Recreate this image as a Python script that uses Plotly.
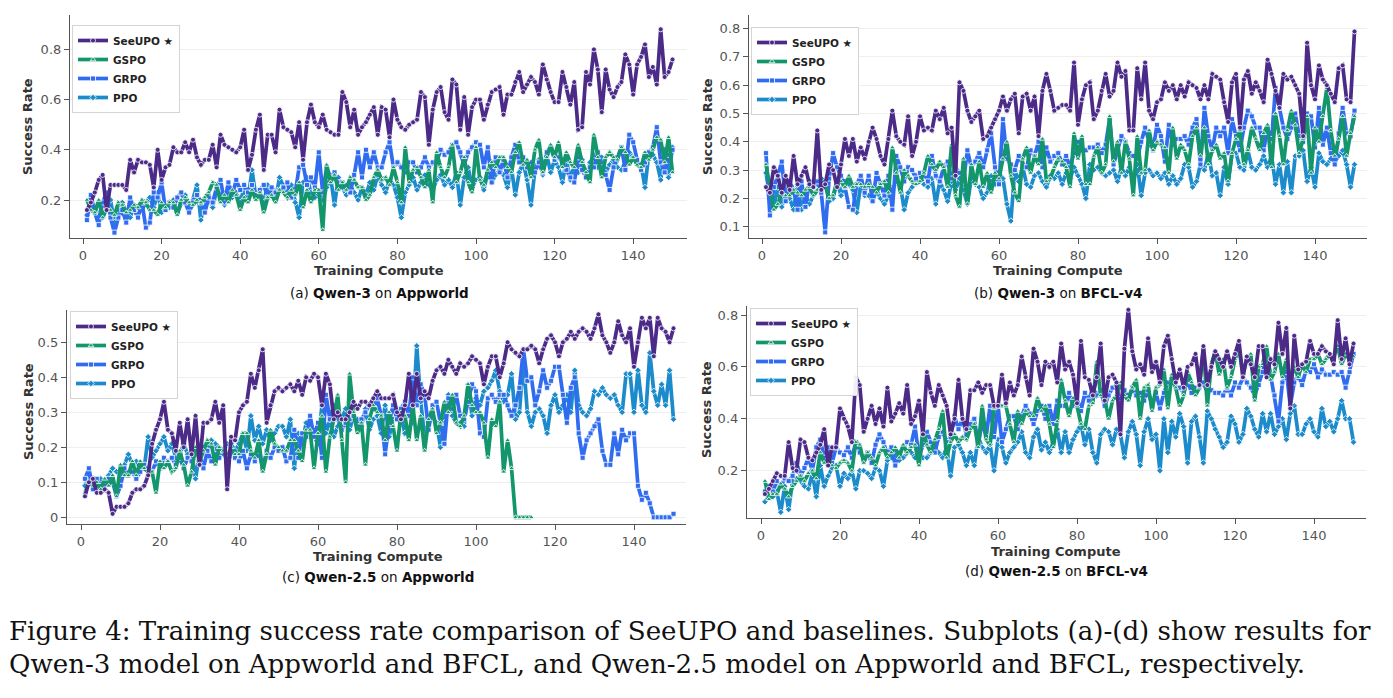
import plotly.graph_objects as go

W, H = 1393, 698
steps = list(range(1, 151))
gspo_c_steps = list(range(1, 115))

series_names = ["SeeUPO ★", "GSPO", "GRPO", "PPO"]
x_ticks = [0, 20, 40, 60, 80, 100, 120, 140]

# ---------------- (a) Qwen-3 on Appworld ----------------
a_seeupo = [0.16,0.19,0.23,0.28,0.30,0.16,0.26,0.26,0.26,0.26,
            0.24,0.36,0.31,0.36,0.35,0.35,0.34,0.25,0.40,0.28,
            0.33,0.34,0.41,0.39,0.39,0.43,0.39,0.44,0.37,0.34,
            0.36,0.36,0.42,0.33,0.46,0.42,0.41,0.40,0.39,0.41,
            0.48,0.32,0.38,0.48,0.54,0.32,0.46,0.46,0.39,0.56,
            0.49,0.48,0.47,0.41,0.51,0.36,0.51,0.58,0.51,0.49,
            0.54,0.48,0.47,0.46,0.46,0.63,0.59,0.49,0.56,0.46,
            0.49,0.51,0.54,0.57,0.46,0.57,0.56,0.45,0.60,0.52,
            0.49,0.48,0.50,0.51,0.52,0.63,0.61,0.42,0.56,0.63,
            0.65,0.55,0.52,0.68,0.66,0.48,0.61,0.46,0.57,0.60,
            0.60,0.52,0.58,0.63,0.64,0.65,0.54,0.62,0.62,0.67,
            0.71,0.63,0.66,0.69,0.67,0.62,0.74,0.68,0.63,0.59,
            0.59,0.71,0.65,0.58,0.67,0.48,0.49,0.71,0.66,0.80,
            0.72,0.55,0.72,0.64,0.61,0.65,0.67,0.78,0.74,0.62,
            0.74,0.77,0.82,0.69,0.73,0.66,0.88,0.69,0.71,0.76]
a_gspo = [0.20,0.16,0.15,0.20,0.13,0.17,0.16,0.14,0.19,0.18,
          0.15,0.16,0.18,0.17,0.20,0.19,0.16,0.16,0.14,0.19,
          0.17,0.19,0.19,0.14,0.20,0.21,0.19,0.18,0.20,0.19,
          0.21,0.23,0.27,0.26,0.19,0.22,0.19,0.24,0.22,0.16,
          0.21,0.19,0.24,0.20,0.23,0.15,0.21,0.22,0.19,0.24,
          0.23,0.21,0.24,0.22,0.27,0.17,0.24,0.19,0.24,0.24,
          0.08,0.34,0.27,0.30,0.24,0.27,0.24,0.29,0.28,0.25,
          0.25,0.20,0.22,0.29,0.32,0.28,0.29,0.26,0.33,0.27,
          0.19,0.41,0.27,0.32,0.33,0.29,0.25,0.32,0.19,0.39,
          0.33,0.29,0.33,0.42,0.27,0.31,0.37,0.27,0.23,0.41,
          0.28,0.26,0.32,0.35,0.33,0.37,0.37,0.33,0.31,0.39,
          0.43,0.34,0.36,0.29,0.40,0.44,0.31,0.37,0.42,0.37,
          0.43,0.33,0.39,0.35,0.33,0.42,0.35,0.31,0.27,0.46,
          0.37,0.29,0.37,0.39,0.37,0.36,0.41,0.39,0.34,0.37,
          0.34,0.33,0.39,0.36,0.40,0.45,0.44,0.35,0.45,0.31]
a_grpo = [0.12,0.22,0.15,0.10,0.19,0.23,0.13,0.07,0.13,0.16,
          0.11,0.21,0.16,0.13,0.19,0.09,0.11,0.23,0.21,0.27,
          0.16,0.19,0.17,0.21,0.23,0.19,0.15,0.19,0.22,0.19,
          0.15,0.21,0.19,0.25,0.28,0.19,0.27,0.22,0.28,0.24,
          0.26,0.23,0.26,0.22,0.24,0.26,0.21,0.25,0.23,0.24,
          0.25,0.27,0.21,0.23,0.33,0.34,0.26,0.29,0.25,0.39,
          0.23,0.33,0.29,0.31,0.27,0.27,0.26,0.23,0.30,0.39,
          0.29,0.40,0.33,0.39,0.33,0.33,0.39,0.43,0.33,0.35,
          0.33,0.31,0.35,0.35,0.31,0.33,0.37,0.33,0.35,0.35,
          0.40,0.38,0.39,0.42,0.43,0.39,0.34,0.39,0.41,0.43,
          0.42,0.33,0.41,0.27,0.37,0.31,0.36,0.29,0.37,0.42,
          0.35,0.37,0.33,0.35,0.31,0.35,0.31,0.39,0.41,0.36,
          0.37,0.35,0.32,0.29,0.27,0.37,0.32,0.29,0.33,0.33,
          0.39,0.33,0.30,0.24,0.33,0.37,0.41,0.32,0.46,0.43,
          0.36,0.32,0.35,0.39,0.41,0.49,0.35,0.31,0.38,0.40]
a_ppo = [0.14,0.18,0.17,0.14,0.13,0.17,0.20,0.11,0.16,0.19,
         0.15,0.13,0.18,0.17,0.16,0.19,0.21,0.17,0.23,0.15,
         0.18,0.17,0.20,0.15,0.19,0.22,0.15,0.20,0.26,0.12,
         0.20,0.22,0.17,0.24,0.22,0.18,0.25,0.21,0.23,0.19,
         0.25,0.20,0.32,0.21,0.23,0.19,0.26,0.22,0.20,0.29,
         0.25,0.22,0.26,0.19,0.13,0.27,0.29,0.23,0.21,0.23,
         0.20,0.25,0.29,0.18,0.29,0.25,0.22,0.26,0.23,0.20,
         0.25,0.22,0.27,0.24,0.30,0.26,0.23,0.28,0.26,0.21,
         0.13,0.23,0.26,0.29,0.24,0.27,0.30,0.26,0.24,0.28,
         0.30,0.26,0.28,0.25,0.31,0.18,0.29,0.33,0.25,0.28,
         0.29,0.24,0.31,0.27,0.30,0.32,0.30,0.25,0.33,0.22,
         0.31,0.35,0.28,0.18,0.32,0.36,0.30,0.38,0.31,0.36,
         0.33,0.27,0.36,0.28,0.34,0.31,0.36,0.29,0.35,0.38,
         0.33,0.37,0.31,0.34,0.36,0.33,0.32,0.35,0.39,0.37,
         0.35,0.34,0.25,0.39,0.38,0.35,0.28,0.40,0.29,0.41]

# ---------------- (b) Qwen-3 on BFCL-v4 ----------------
b_seeupo = [0.24,0.22,0.31,0.28,0.22,0.28,0.23,0.35,0.25,0.28,
            0.31,0.25,0.24,0.44,0.23,0.25,0.32,0.30,0.24,0.32,
            0.41,0.35,0.41,0.33,0.38,0.34,0.40,0.45,0.41,0.35,
            0.32,0.41,0.51,0.42,0.40,0.39,0.49,0.35,0.40,0.49,
            0.44,0.45,0.44,0.51,0.48,0.52,0.43,0.45,0.28,0.61,
            0.58,0.51,0.47,0.49,0.51,0.41,0.42,0.45,0.48,0.51,
            0.56,0.51,0.55,0.57,0.43,0.56,0.57,0.51,0.56,0.42,
            0.58,0.64,0.58,0.51,0.52,0.53,0.53,0.51,0.68,0.46,
            0.55,0.60,0.61,0.48,0.51,0.58,0.64,0.56,0.58,0.68,
            0.63,0.65,0.44,0.44,0.66,0.55,0.68,0.51,0.48,0.54,
            0.55,0.61,0.58,0.60,0.55,0.60,0.56,0.61,0.60,0.59,
            0.55,0.60,0.55,0.64,0.63,0.62,0.54,0.47,0.61,0.64,
            0.45,0.62,0.65,0.57,0.61,0.58,0.54,0.69,0.64,0.58,
            0.52,0.64,0.62,0.63,0.60,0.57,0.42,0.75,0.60,0.55,
            0.67,0.62,0.60,0.57,0.54,0.66,0.67,0.55,0.54,0.79]
b_gspo = [0.32,0.24,0.16,0.18,0.22,0.21,0.21,0.23,0.22,0.21,
          0.23,0.24,0.21,0.23,0.23,0.25,0.20,0.21,0.26,0.26,
          0.24,0.28,0.24,0.25,0.25,0.24,0.25,0.24,0.22,0.25,
          0.26,0.22,0.38,0.29,0.22,0.30,0.28,0.26,0.25,0.26,
          0.29,0.35,0.32,0.30,0.33,0.31,0.24,0.39,0.21,0.17,
          0.34,0.18,0.32,0.25,0.33,0.24,0.29,0.22,0.29,0.27,
          0.34,0.40,0.28,0.22,0.19,0.34,0.38,0.29,0.35,0.32,
          0.41,0.26,0.27,0.31,0.34,0.33,0.31,0.24,0.43,0.34,
          0.42,0.25,0.25,0.35,0.38,0.29,0.32,0.49,0.33,0.40,
          0.29,0.40,0.34,0.21,0.42,0.29,0.30,0.44,0.37,0.40,
          0.39,0.38,0.29,0.45,0.34,0.39,0.37,0.32,0.42,0.45,
          0.35,0.45,0.32,0.37,0.39,0.34,0.36,0.26,0.36,0.41,
          0.44,0.32,0.37,0.45,0.41,0.37,0.43,0.46,0.31,0.50,
          0.42,0.32,0.44,0.51,0.46,0.36,0.41,0.49,0.29,0.45,
          0.40,0.49,0.59,0.44,0.35,0.41,0.49,0.35,0.43,0.49]
b_grpo = [0.36,0.14,0.24,0.28,0.33,0.19,0.26,0.23,0.16,0.26,
          0.17,0.26,0.24,0.26,0.22,0.08,0.27,0.36,0.31,0.28,
          0.24,0.17,0.16,0.25,0.28,0.22,0.28,0.19,0.29,0.25,
          0.21,0.28,0.16,0.35,0.31,0.26,0.31,0.30,0.27,0.29,
          0.29,0.26,0.35,0.28,0.26,0.31,0.33,0.27,0.31,0.29,
          0.26,0.37,0.31,0.33,0.36,0.31,0.37,0.43,0.31,0.25,
          0.48,0.34,0.32,0.30,0.35,0.32,0.31,0.37,0.35,0.40,
          0.31,0.38,0.33,0.35,0.36,0.32,0.35,0.31,0.36,0.40,
          0.37,0.37,0.38,0.38,0.39,0.36,0.39,0.48,0.32,0.37,
          0.42,0.40,0.36,0.35,0.34,0.40,0.45,0.40,0.37,0.46,
          0.42,0.33,0.46,0.39,0.41,0.41,0.42,0.39,0.45,0.48,
          0.32,0.52,0.42,0.37,0.45,0.42,0.45,0.36,0.48,0.42,
          0.37,0.45,0.51,0.49,0.45,0.45,0.37,0.45,0.41,0.59,
          0.52,0.45,0.41,0.45,0.50,0.42,0.40,0.50,0.49,0.38,
          0.52,0.39,0.45,0.36,0.32,0.43,0.52,0.43,0.42,0.51]
b_ppo = [0.29,0.21,0.17,0.24,0.17,0.22,0.20,0.16,0.25,0.16,
         0.21,0.18,0.21,0.23,0.27,0.25,0.19,0.20,0.26,0.21,
         0.26,0.25,0.23,0.15,0.25,0.21,0.21,0.19,0.23,0.20,
         0.18,0.21,0.23,0.26,0.25,0.16,0.22,0.24,0.28,0.28,
         0.25,0.24,0.27,0.18,0.26,0.23,0.19,0.26,0.23,0.27,
         0.23,0.18,0.27,0.25,0.24,0.20,0.22,0.28,0.25,0.29,
         0.27,0.18,0.12,0.30,0.26,0.31,0.25,0.24,0.28,0.29,
         0.26,0.24,0.28,0.27,0.29,0.25,0.29,0.27,0.31,0.28,
         0.25,0.20,0.32,0.30,0.31,0.29,0.28,0.29,0.30,0.26,
         0.31,0.28,0.31,0.26,0.32,0.21,0.29,0.30,0.28,0.29,
         0.27,0.29,0.25,0.28,0.25,0.27,0.32,0.31,0.24,0.26,
         0.32,0.30,0.36,0.28,0.29,0.21,0.31,0.25,0.36,0.36,
         0.31,0.30,0.37,0.31,0.30,0.32,0.35,0.31,0.35,0.25,
         0.32,0.22,0.33,0.22,0.35,0.35,0.37,0.26,0.31,0.24,
         0.36,0.33,0.32,0.34,0.33,0.35,0.37,0.32,0.24,0.32]

# ---------------- (c) Qwen-2.5 on Appworld ----------------
c_seeupo = [0.06,0.10,0.11,0.07,0.07,0.08,0.07,0.01,0.03,0.03,
            0.03,0.04,0.07,0.08,0.08,0.09,0.12,0.21,0.25,0.28,
            0.33,0.25,0.24,0.19,0.27,0.20,0.28,0.18,0.29,0.15,
            0.27,0.27,0.28,0.33,0.27,0.32,0.08,0.23,0.22,0.30,
            0.32,0.33,0.41,0.37,0.42,0.48,0.27,0.32,0.36,0.37,
            0.36,0.37,0.38,0.36,0.39,0.35,0.40,0.39,0.41,0.40,
            0.32,0.41,0.38,0.28,0.30,0.28,0.28,0.30,0.33,0.31,
            0.33,0.33,0.32,0.34,0.36,0.34,0.34,0.34,0.35,0.30,
            0.28,0.32,0.41,0.32,0.41,0.34,0.36,0.34,0.39,0.42,
            0.43,0.41,0.45,0.43,0.41,0.44,0.43,0.44,0.46,0.45,
            0.44,0.38,0.43,0.46,0.46,0.40,0.44,0.50,0.48,0.47,
            0.46,0.48,0.48,0.49,0.48,0.44,0.48,0.51,0.52,0.50,
            0.46,0.50,0.51,0.53,0.51,0.53,0.54,0.53,0.51,0.54,
            0.58,0.52,0.50,0.47,0.50,0.56,0.52,0.50,0.54,0.43,
            0.50,0.57,0.54,0.57,0.46,0.57,0.54,0.53,0.50,0.54]
c_gspo = [0.07,0.10,0.09,0.10,0.08,0.11,0.09,0.12,0.06,0.15,
          0.12,0.12,0.16,0.12,0.16,0.14,0.13,0.13,0.07,0.16,
          0.14,0.16,0.13,0.14,0.19,0.15,0.09,0.13,0.20,0.16,
          0.19,0.22,0.21,0.15,0.20,0.19,0.17,0.20,0.18,0.18,
          0.24,0.24,0.19,0.17,0.22,0.13,0.18,0.25,0.21,0.20,
          0.19,0.19,0.22,0.22,0.19,0.16,0.25,0.25,0.14,0.24,
          0.29,0.13,0.23,0.28,0.35,0.22,0.10,0.41,0.30,0.24,
          0.27,0.15,0.28,0.32,0.30,0.29,0.22,0.30,0.26,0.19,
          0.30,0.29,0.22,0.32,0.22,0.29,0.19,0.28,0.31,0.24,
          0.27,0.33,0.30,0.35,0.27,0.26,0.29,0.38,0.32,0.30,
          0.30,0.27,0.17,0.28,0.26,0.33,0.13,0.22,0.14,0.00,
          0.00,0.00,0.00,0.00]
c_grpo = [0.11,0.14,0.08,0.11,0.09,0.09,0.11,0.10,0.06,0.09,
          0.14,0.12,0.13,0.11,0.13,0.15,0.14,0.13,0.16,0.14,
          0.17,0.16,0.17,0.15,0.17,0.14,0.17,0.16,0.19,0.18,
          0.14,0.19,0.16,0.18,0.17,0.19,0.16,0.18,0.17,0.16,
          0.19,0.14,0.18,0.16,0.19,0.14,0.19,0.17,0.20,0.19,
          0.20,0.16,0.17,0.25,0.17,0.24,0.23,0.29,0.23,0.27,
          0.17,0.35,0.28,0.32,0.28,0.25,0.27,0.28,0.29,0.26,
          0.28,0.30,0.32,0.31,0.34,0.29,0.18,0.27,0.32,0.28,
          0.31,0.33,0.29,0.40,0.32,0.38,0.35,0.25,0.32,0.33,
          0.27,0.21,0.34,0.31,0.35,0.29,0.28,0.33,0.38,0.36,
          0.24,0.23,0.34,0.35,0.33,0.35,0.35,0.32,0.29,0.32,
          0.37,0.48,0.39,0.40,0.32,0.36,0.42,0.37,0.39,0.43,
          0.43,0.35,0.27,0.37,0.40,0.24,0.17,0.22,0.24,0.26,
          0.28,0.19,0.15,0.15,0.24,0.18,0.25,0.22,0.24,0.24,
          0.09,0.05,0.07,0.04,0.00,0.00,0.00,0.00,0.00,0.01]
c_ppo = [0.09,0.12,0.11,0.09,0.11,0.08,0.12,0.14,0.13,0.13,
         0.15,0.18,0.15,0.16,0.14,0.14,0.23,0.17,0.19,0.21,
         0.23,0.19,0.21,0.17,0.18,0.21,0.18,0.19,0.11,0.18,
         0.20,0.19,0.22,0.21,0.17,0.19,0.21,0.21,0.19,0.21,
         0.24,0.19,0.29,0.22,0.26,0.21,0.25,0.22,0.24,0.26,
         0.26,0.23,0.28,0.14,0.24,0.21,0.27,0.24,0.23,0.21,
         0.32,0.24,0.28,0.23,0.26,0.28,0.31,0.25,0.29,0.28,
         0.26,0.31,0.25,0.28,0.29,0.24,0.32,0.23,0.28,0.28,
         0.29,0.24,0.25,0.28,0.49,0.33,0.23,0.27,0.29,0.27,
         0.20,0.27,0.35,0.29,0.27,0.27,0.26,0.38,0.29,0.34,
         0.32,0.36,0.37,0.39,0.42,0.36,0.33,0.35,0.41,0.28,
         0.30,0.45,0.30,0.26,0.30,0.31,0.29,0.24,0.32,0.35,
         0.30,0.32,0.35,0.30,0.42,0.32,0.30,0.29,0.31,0.36,
         0.35,0.37,0.35,0.34,0.35,0.32,0.30,0.41,0.41,0.30,
         0.42,0.32,0.30,0.47,0.36,0.32,0.38,0.32,0.42,0.28]

# ---------------- (d) Qwen-2.5 on BFCL-v4 ----------------
d_seeupo = [0.11,0.13,0.16,0.19,0.18,0.18,0.31,0.21,0.20,0.32,
            0.31,0.25,0.24,0.27,0.30,0.36,0.22,0.29,0.29,0.44,
            0.40,0.37,0.31,0.56,0.53,0.35,0.40,0.45,0.38,0.44,
            0.37,0.52,0.39,0.42,0.46,0.42,0.53,0.38,0.41,0.47,
            0.34,0.58,0.50,0.45,0.53,0.49,0.45,0.34,0.40,0.55,
            0.40,0.36,0.51,0.51,0.54,0.50,0.53,0.53,0.45,0.45,
            0.57,0.46,0.54,0.49,0.53,0.64,0.56,0.49,0.67,0.62,
            0.53,0.62,0.60,0.62,0.54,0.69,0.59,0.62,0.57,0.46,
            0.70,0.56,0.55,0.49,0.56,0.69,0.47,0.56,0.57,0.54,
            0.34,0.67,0.82,0.66,0.59,0.61,0.57,0.71,0.58,0.62,
            0.54,0.68,0.72,0.63,0.54,0.59,0.52,0.60,0.61,0.65,
            0.53,0.68,0.53,0.60,0.66,0.63,0.60,0.66,0.60,0.65,
            0.70,0.56,0.64,0.61,0.56,0.68,0.68,0.56,0.63,0.61,
            0.77,0.65,0.75,0.44,0.72,0.59,0.61,0.62,0.70,0.65,
            0.65,0.68,0.66,0.65,0.61,0.78,0.63,0.71,0.61,0.69]
d_gspo = [0.16,0.09,0.11,0.11,0.15,0.13,0.10,0.14,0.16,0.18,
          0.16,0.19,0.20,0.17,0.27,0.23,0.25,0.22,0.21,0.23,
          0.24,0.23,0.20,0.31,0.30,0.23,0.27,0.25,0.22,0.27,
          0.29,0.25,0.27,0.29,0.25,0.30,0.27,0.29,0.30,0.22,
          0.36,0.30,0.27,0.32,0.36,0.43,0.25,0.31,0.34,0.31,
          0.33,0.32,0.36,0.38,0.29,0.45,0.32,0.30,0.44,0.45,
          0.45,0.45,0.38,0.31,0.43,0.38,0.43,0.41,0.41,0.48,
          0.43,0.45,0.38,0.29,0.39,0.55,0.47,0.41,0.48,0.45,
          0.38,0.36,0.45,0.46,0.62,0.49,0.48,0.40,0.47,0.49,
          0.54,0.49,0.47,0.52,0.55,0.40,0.52,0.53,0.43,0.52,
          0.53,0.59,0.44,0.57,0.52,0.45,0.49,0.58,0.54,0.49,
          0.52,0.67,0.45,0.61,0.66,0.57,0.63,0.52,0.56,0.63,
          0.67,0.57,0.63,0.65,0.47,0.60,0.61,0.68,0.55,0.58,
          0.65,0.56,0.63,0.55,0.60,0.56,0.61,0.58,0.63,0.63,
          0.65,0.61,0.63,0.65,0.64,0.68,0.61,0.65,0.63,0.64]
d_grpo = [0.12,0.14,0.12,0.16,0.14,0.17,0.16,0.18,0.23,0.18,
          0.21,0.25,0.20,0.29,0.32,0.25,0.29,0.23,0.29,0.27,
          0.26,0.29,0.25,0.31,0.27,0.25,0.27,0.23,0.30,0.34,
          0.31,0.26,0.29,0.22,0.27,0.29,0.31,0.30,0.37,0.25,
          0.30,0.35,0.31,0.27,0.33,0.35,0.31,0.33,0.41,0.36,
          0.40,0.34,0.38,0.40,0.30,0.39,0.33,0.45,0.33,0.45,
          0.31,0.36,0.41,0.41,0.36,0.41,0.45,0.42,0.38,0.43,
          0.45,0.40,0.45,0.38,0.47,0.45,0.45,0.50,0.45,0.48,
          0.43,0.50,0.47,0.52,0.49,0.51,0.45,0.49,0.52,0.53,
          0.46,0.51,0.48,0.52,0.49,0.50,0.47,0.51,0.45,0.50,
          0.44,0.50,0.54,0.55,0.52,0.52,0.50,0.55,0.50,0.52,
          0.52,0.54,0.50,0.51,0.50,0.50,0.49,0.52,0.49,0.54,
          0.52,0.56,0.54,0.52,0.49,0.53,0.58,0.66,0.57,0.49,
          0.39,0.54,0.58,0.45,0.54,0.57,0.53,0.59,0.58,0.61,
          0.56,0.59,0.57,0.57,0.58,0.57,0.58,0.52,0.58,0.65]
d_ppo = [0.08,0.10,0.10,0.12,0.04,0.14,0.05,0.16,0.17,0.16,
         0.14,0.13,0.19,0.10,0.22,0.14,0.18,0.21,0.22,0.14,
         0.19,0.17,0.20,0.13,0.20,0.20,0.19,0.17,0.21,0.20,
         0.14,0.24,0.25,0.26,0.24,0.25,0.27,0.27,0.25,0.27,
         0.25,0.25,0.27,0.29,0.27,0.25,0.29,0.18,0.29,0.30,
         0.27,0.22,0.27,0.22,0.33,0.29,0.27,0.30,0.20,0.32,
         0.29,0.23,0.27,0.29,0.31,0.35,0.27,0.25,0.33,0.36,
         0.28,0.31,0.27,0.31,0.36,0.27,0.35,0.27,0.32,0.35,
         0.38,0.30,0.36,0.27,0.23,0.34,0.36,0.35,0.30,0.36,
         0.34,0.25,0.35,0.39,0.34,0.22,0.35,0.40,0.32,0.34,
         0.20,0.40,0.27,0.39,0.33,0.42,0.37,0.23,0.39,0.41,
         0.33,0.23,0.43,0.40,0.36,0.33,0.29,0.31,0.41,0.38,
         0.31,0.34,0.44,0.41,0.36,0.33,0.42,0.35,0.42,0.34,
         0.37,0.40,0.32,0.42,0.45,0.34,0.34,0.38,0.40,0.35,
         0.33,0.44,0.37,0.39,0.35,0.40,0.47,0.40,0.40,0.31]

a_yticks = [0.2, 0.4, 0.6, 0.8]
b_yticks = [0.1, 0.2, 0.3, 0.4, 0.5, 0.6, 0.7, 0.8]
c_yticks = [0, 0.1, 0.2, 0.3, 0.4, 0.5]
d_yticks = [0.2, 0.4, 0.6, 0.8]

# ---------------- styling ----------------
COLORS = ["#4b2a88", "#13966c", "#2f6cf0", "#1c8bcb"]
SYMBOLS = ["circle", "triangle-up", "square", "diamond"]
FONT = "DejaVu Sans"

# panel geometry in pixels
panels = [
    dict(sub="(a) <b>Qwen-3</b> on <b>Appworld</b>", data=[(steps, a_seeupo), (steps, a_gspo), (steps, a_grpo), (steps, a_ppo)],
         box=(70, 687, 15, 238), x0=83, xs=3.93, yv=0.2, ypx=200, ys=251, yticks=a_yticks,
         leg=(72, 25), ytitle=(28, 127), xtitle=(379, 270), subpos=(379, 293)),
    dict(sub="(b) <b>Qwen-3</b> on <b>BFCL-v4</b>", data=[(steps, b_seeupo), (steps, b_gspo), (steps, b_grpo), (steps, b_ppo)],
         box=(749, 1367, 15, 238), x0=762, xs=3.95, yv=0.1, ypx=226.7, ys=283, yticks=b_yticks,
         leg=(751, 27), ytitle=(708, 127), xtitle=(1058, 270), subpos=(1058, 293)),
    dict(sub="(c) <b>Qwen-2.5</b> on <b>Appworld</b>", data=[(steps, c_seeupo), (gspo_c_steps, c_gspo), (steps, c_grpo), (steps, c_ppo)],
         box=(67, 686, 310, 524), x0=81, xs=3.95, yv=0.0, ypx=517.3, ys=350, yticks=c_yticks,
         leg=(70, 311), ytitle=(28, 412), xtitle=(378, 556), subpos=(378, 577)),
    dict(sub="(d) <b>Qwen-2.5</b> on <b>BFCL-v4</b>", data=[(steps, d_seeupo), (steps, d_gspo), (steps, d_grpo), (steps, d_ppo)],
         box=(747, 1366, 306, 518), x0=761, xs=3.95, yv=0.2, ypx=470.7, ys=259.5, yticks=d_yticks,
         leg=(750, 308), ytitle=(706, 410), xtitle=(1056, 551), subpos=(1056, 571)),
]

fig = go.Figure()
layout = dict(width=W, height=H, margin=dict(l=0, r=0, t=0, b=0),
              paper_bgcolor="white", plot_bgcolor="white", showlegend=True,
              font=dict(family=FONT, color="#333"))
annotations = []


def label(text, px, py, size, color="#333", angle=0, family=FONT, xanchor="center"):
    return dict(text=text, x=px / W, y=1 - py / H, xref="paper", yref="paper",
                xanchor=xanchor, yanchor="middle", showarrow=False, textangle=angle,
                borderpad=0, font=dict(family=family, size=size, color=color))


for i, p in enumerate(panels):
    n = "" if i == 0 else str(i + 1)
    xl, xr, yt, yb = p["box"]
    xr0 = (xl - p["x0"]) / p["xs"]
    xr1 = (xr - p["x0"]) / p["xs"]
    yr0 = p["yv"] - (yb - p["ypx"]) / p["ys"]
    yr1 = p["yv"] + (p["ypx"] - yt) / p["ys"]
    legname = "legend" if i == 0 else "legend" + str(i + 1)
    # draw order: PPO, GRPO, GSPO, SeeUPO (SeeUPO on top)
    for k in [3, 2, 1, 0]:
        xs_, ys_ = p["data"][k]
        fig.add_trace(go.Scatter(
            x=xs_, y=ys_, mode="lines+markers", name="<b>" + series_names[k] + "</b>",
            xaxis="x" + n, yaxis="y" + n, legend=legname, legendrank=k + 1,
            line=dict(color=COLORS[k], width=3.7),
            marker=dict(symbol=SYMBOLS[k], size=5, color=COLORS[k],
                        line=dict(color="white", width=0.8)),
            hoverinfo="skip"))
    layout["xaxis" + n] = dict(
        domain=[xl / W, xr / W], range=[xr0, xr1], anchor="y" + n,
        tickvals=x_ticks, showline=True, linecolor="#555", linewidth=1.2,
        ticks="outside", ticklen=5, tickwidth=1.1, tickcolor="#555",
        tickfont=dict(family=FONT, size=13, color="#555"), showgrid=False, zeroline=False)
    layout["yaxis" + n] = dict(
        domain=[1 - yb / H, 1 - yt / H], range=[yr0, yr1], anchor="x" + n,
        tickvals=p["yticks"], ticktext=[("%g" % v) for v in p["yticks"]],
        showline=True, linecolor="#555", linewidth=1.2,
        ticks="outside", ticklen=5, tickwidth=1.1, tickcolor="#555",
        tickfont=dict(family=FONT, size=13, color="#555"),
        showgrid=True, gridcolor="#efefef", gridwidth=1, zeroline=False)
    layout[legname] = dict(
        x=p["leg"][0] / W, y=1 - p["leg"][1] / H, xanchor="left", yanchor="top",
        bgcolor="rgba(255,255,255,0.92)", bordercolor="#d4d4d4", borderwidth=1,
        font=dict(family=FONT, size=10.5, color="#222"), tracegroupgap=0,
        itemwidth=30, traceorder="normal")
    annotations.append(label("<b>Success Rate</b>", p["ytitle"][0], p["ytitle"][1], 13, angle=-90))
    annotations.append(label("<b>Training Compute</b>", p["xtitle"][0], p["xtitle"][1], 13))
    annotations.append(label(p["sub"], p["subpos"][0], p["subpos"][1], 13.5, color="#111"))

caption_lines = [
    "Figure 4: Training success rate comparison of SeeUPO and baselines. Subplots (a)-(d) show results for",
    "Qwen-3 model on Appworld and BFCL, and Qwen-2.5 model on Appworld and BFCL, respectively.",
]
for j, line in enumerate(caption_lines):
    annotations.append(label(line, 8, 631 + 33 * j, 26.1, color="#111",
                             family="DejaVu Serif", xanchor="left"))

layout["annotations"] = annotations
fig.update_layout(**layout)
fig.write_html("out.html")
